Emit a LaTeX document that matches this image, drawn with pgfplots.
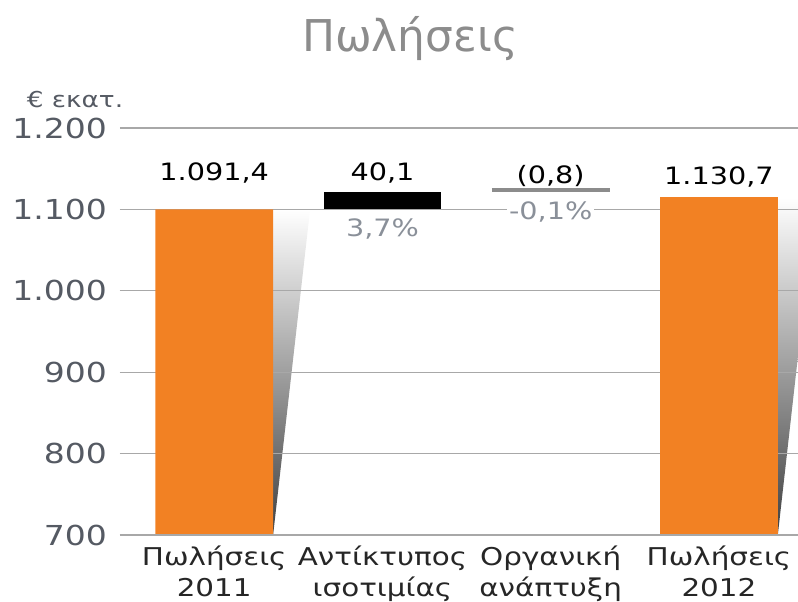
\documentclass[border=0pt]{standalone}
\usepackage{pgfplots}
\pgfplotsset{compat=1.18}
\usepackage{fontspec}
\setmainfont{DejaVu Sans}[FakeStretch=1.2]
\newfontfamily\titlefont{DejaVu Sans}
\definecolor{barorange}{HTML}{F28123}
\definecolor{gridgray}{HTML}{A8A8A8}
\definecolor{ticktxt}{HTML}{555A63}
\definecolor{pctgray}{HTML}{8A9099}
\definecolor{titlegray}{HTML}{8C8C8C}
\definecolor{linegray}{HTML}{8C8C8C}
\begin{document}
\begin{tikzpicture}
\path[use as bounding box] (-60bp,-33.5bp) rectangle (339bp,267.5bp);
\begin{axis}[
  at={(0,0)}, anchor=south west,
  scale only axis, width=339bp, height=203.5bp,
  xmin=-0.56, xmax=3.47, ymin=700, ymax=1200,
  axis line style={draw=none},
  ytick={700,800,...,1200},
  yticklabels={700,800,900,1.000,1.100,1.200},
  ymajorgrids, grid style={gridgray, line width=0.6pt},
  major tick length=0pt,
  xtick={0,1,2,3},
  xticklabels={{Πωλήσεις\\2011},{Αντίκτυπος\\ισοτιμίας},{Οργανική\\ανάπτυξη},{Πωλήσεις\\2012}},
  xticklabel style={align=center, font=\fontsize{12.3}{15.5}\selectfont, text=black!85, yshift=-2bp},
  yticklabel style={font=\fontsize{13.8}{15}\selectfont, text=ticktxt, xshift=-3bp},
]
\addplot[draw=none, top color=white, bottom color=black!75] coordinates {(0.35,1100) (0.57,1100) (0.35,700)} -- cycle;
\addplot[draw=none, top color=white, bottom color=black!75] coordinates {(3.35,1115) (3.47,1115) (3.47,920) (3.35,700)} -- cycle;
\addplot[gridgray, line width=0.6pt] coordinates {(-0.56,1000) (3.47,1000)};
\addplot[gridgray, line width=0.6pt] coordinates {(-0.56,900) (3.47,900)};
\addplot[gridgray, line width=0.6pt] coordinates {(-0.56,800) (3.47,800)};
\addplot[gridgray, line width=0.6pt] coordinates {(-0.56,1100) (3.47,1100)};
\addplot[ybar, bar width=0.7, fill=barorange, draw=none] coordinates {(0,1100) (3,1115)};
\addplot[fill=black, draw=none] coordinates {(0.65,1100) (1.35,1100) (1.35,1121) (0.65,1121)};
\addplot[linegray, line width=2bp] coordinates {(1.65,1124) (2.35,1124)};
\addplot[gridgray, line width=1.4pt] coordinates {(-0.56,700) (3.47,700)};
\node[anchor=base, font=\fontsize{12}{14}\selectfont] at (axis cs:0,1136) {1.091,4};
\node[anchor=base, font=\fontsize{12}{14}\selectfont] at (axis cs:1,1136) {40,1};
\node[anchor=base, font=\fontsize{12}{14}\selectfont] at (axis cs:2,1132) {(0,8)};
\node[anchor=base, font=\fontsize{12}{14}\selectfont] at (axis cs:3,1131) {1.130,7};
\node[anchor=base, font=\fontsize{12}{14}\selectfont, text=pctgray] at (axis cs:1,1067) {3,7\%};
\node[anchor=base, font=\fontsize{12}{14}\selectfont, text=pctgray, fill=white, inner sep=1bp] at (axis cs:2,1087) {-0,1\%};
\end{axis}
\node[font=\fontsize{11}{13}\selectfont, text=ticktxt] at (-22.5bp,217.5bp) {€ εκατ.};
\node[font=\titlefont\fontsize{22}{26}\selectfont, text=titlegray] at (145bp,248bp) {Πωλήσεις};
\end{tikzpicture}
\end{document}
